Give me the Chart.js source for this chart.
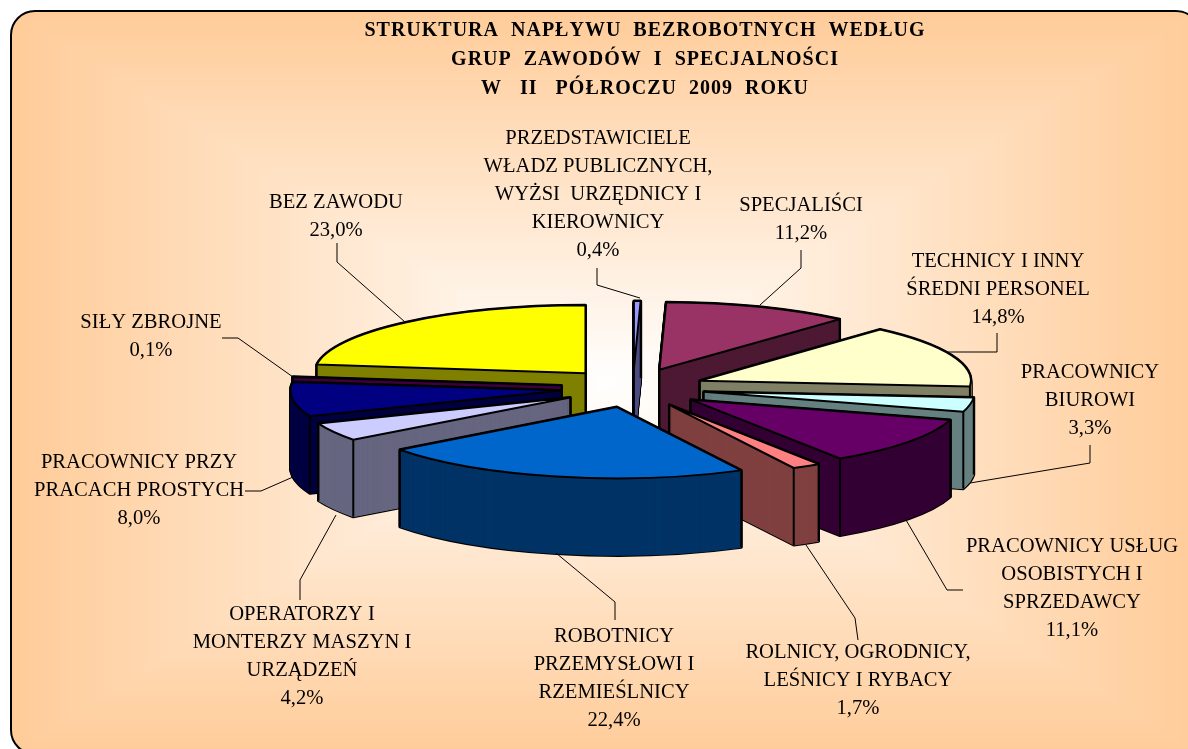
<!DOCTYPE html>
<html>
<head>
<meta charset="utf-8">
<script src="https://cdn.jsdelivr.net/npm/chart.js@4/dist/chart.umd.js"></script>
<style>
  html, body { margin: 0; padding: 0; background: #fff; overflow: hidden; }
  canvas { display: block; }
</style>
</head>
<body>
<canvas id="pieChart" width="1188" height="749"></canvas>
<script>
// clockwise from 12 o'clock
const categories = [
    ['PRZEDSTAWICIELE', 'WŁADZ PUBLICZNYCH,', 'WYŻSI  URZĘDNICY I', 'KIEROWNICY'],
    ['SPECJALIŚCI'],
    ['TECHNICY I INNY', 'ŚREDNI PERSONEL'],
    ['PRACOWNICY', 'BIUROWI'],
    ['PRACOWNICY USŁUG', 'OSOBISTYCH I', 'SPRZEDAWCY'],
    ['ROLNICY, OGRODNICY,', 'LEŚNICY I RYBACY'],
    ['ROBOTNICY', 'PRZEMYSŁOWI I', 'RZEMIEŚLNICY'],
    ['OPERATORZY I', 'MONTERZY MASZYN I', 'URZĄDZEŃ'],
    ['PRACOWNICY PRZY', 'PRACACH PROSTYCH'],
    ['SIŁY ZBROJNE'],
    ['BEZ ZAWODU']
];
const shares = [0.4, 11.2, 14.8, 3.3, 11.1, 1.7, 22.4, 4.2, 8.0, 0.1, 23.0];
const topColors = ['#9999FF', '#993366', '#FFFFCC', '#CCFFFF', '#660066', '#FF8080', '#0066CC', '#CCCCFF', '#000080', '#800080', '#FFFF00'];
const sideColors = ['#4D4D80', '#4D1933', '#808066', '#668080', '#330033', '#804040', '#003366', '#666680', '#000040', '#400040', '#808000'];
const titleLines = [
    'STRUKTURA  NAPŁYWU  BEZROBOTNYCH  WEDŁUG',
    'GRUP  ZAWODÓW  I  SPECJALNOŚCI',
    'W   II   PÓŁROCZU  2009  ROKU'
];

// label layout: centre x, y of first line
const labelAnchors = [[598, 139], [801, 206], [998, 262], [1090, 373], [1072, 547], [858, 653], [614, 637], [302, 615], [139, 463], [151, 323], [336, 203]];
const leaderLines = [
    [[597, 268], [597, 285], [640, 298]],
    [[801, 250], [801, 268], [760, 305]],
    [[997, 333], [997, 352], [946, 352]],
    [[1090, 445], [1090, 463], [970, 483]],
    [[963, 590], [947, 590], [906, 520]],
    [[858, 640], [855, 618], [806, 545]],
    [[615, 620], [615, 602], [556, 553]],
    [[300, 600], [300, 580], [336, 515]],
    [[245, 491], [261, 491], [293, 477]],
    [[222, 338], [238, 338], [293, 377]],
    [[337, 243], [337, 262], [405, 322]]
];

const pieCenter = { x: 633, y: 388 };
const tilt = 0.272;
const radius = 271;
const explode = 72;
const depth = 77;
const lineHeight = 28;
const labelFont = '20.6px "Liberation Serif"';

function pct(v) {
    return v.toFixed(1).replace('.', ',') + '%';
}

function midAngle(arc) {
    return (arc.startAngle + arc.endAngle) / 2;
}

// back slices look a little flatter than the front ones
function sliceTilt(arc) {
    return 0.256 + 0.007 * Math.sin(midAngle(arc));
}

function apex(arc) {
    const mid = midAngle(arc);
    return {
        x: pieCenter.x + Math.cos(mid) * explode,
        y: pieCenter.y + Math.sin(mid) * explode * tilt
    };
}

// top outline of a slice in screen coordinates
function slicePath(arc, drop) {
    const c = apex(arc);
    const path = new Path2D();
    path.moveTo(c.x, c.y + drop);
    path.ellipse(c.x, c.y + drop, arc.outerRadius, arc.outerRadius * sliceTilt(arc), 0, arc.startAngle, arc.endAngle);
    path.closePath();
    return path;
}

function drawArc(ctx, arc, color, drop) {
    const c = apex(arc);
    const painted = Object.create(arc);
    painted.options = Object.assign({}, arc.options, { backgroundColor: color });
    ctx.save();
    ctx.translate(c.x, c.y + drop);
    ctx.scale(1, sliceTilt(arc));
    ctx.translate(-arc.x, -arc.y);
    painted.draw(ctx);
    ctx.restore();
}

function drawSlice(ctx, arc, index) {
    const top = slicePath(arc, 0);
    const c = apex(arc);
    const ry = arc.outerRadius * sliceTilt(arc);
    ctx.lineJoin = 'round';

    // black silhouette first, dark fill over it leaves only the outline
    ctx.strokeStyle = '#000';
    ctx.lineWidth = 3;
    for (let d = depth; d >= 0; d -= 1) {
        ctx.stroke(slicePath(arc, d));
    }
    ctx.strokeStyle = sideColors[index];
    ctx.lineWidth = 1;
    for (let d = depth; d >= 1; d -= 1) {
        ctx.stroke(slicePath(arc, d));
        drawArc(ctx, arc, sideColors[index], d);
    }

    // vertical edges, only where they are not behind the top face
    ctx.strokeStyle = '#000';
    ctx.lineWidth = 2;
    const corners = [[c.x, c.y]];
    [arc.startAngle, arc.endAngle].forEach(a => {
        corners.push([c.x + Math.cos(a) * arc.outerRadius, c.y + Math.sin(a) * ry]);
    });
    corners.forEach(p => {
        if (!ctx.isPointInPath(top, p[0], p[1] + 3)) {
            ctx.beginPath();
            ctx.moveTo(p[0], p[1]);
            ctx.lineTo(p[0], p[1] + depth);
            ctx.stroke();
        }
    });

    drawArc(ctx, arc, topColors[index], 0);
    ctx.stroke(top);
}

const panelPlugin = {
    id: 'panel',
    beforeDraw(chart) {
        const ctx = chart.ctx;
        // the panel runs off the right and bottom of the picture
        const left = 11, top = 11, right = 1200, bottom = 754;
        const cx = (left + right) / 2, cy = (top + bottom) / 2;
        ctx.save();
        ctx.beginPath();
        ctx.roundRect(left, top, right - left, bottom - top, 24);
        ctx.clip();
        // rectangular "from centre" gradient, stepped like the original
        const steps = 64;
        for (let i = 0; i < steps; i += 1) {
            const t = i / steps;
            const g = Math.round(204 + (255 - 204) * t);
            const b = Math.round(153 + (255 - 153) * t);
            ctx.fillStyle = `rgb(255,${g},${b})`;
            ctx.fillRect(left + (cx - left) * t, top + (cy - top) * t,
                (right - left) * (1 - t), (bottom - top) * (1 - t));
        }
        ctx.restore();
        ctx.save();
        ctx.strokeStyle = '#000';
        ctx.lineWidth = 2;
        ctx.beginPath();
        ctx.roundRect(left, top, right - left, bottom - top, 24);
        ctx.stroke();
        ctx.restore();
        ctx.letterSpacing = '1px';
    }
};

const piePlugin = {
    id: 'pie3d',
    beforeDatasetsDraw(chart) {
        const ctx = chart.ctx;
        ctx.letterSpacing = '0px';
        const arcs = chart.getDatasetMeta(0).data;
        // far slices first so the near ones cover them
        const order = arcs.map((arc, i) => i).sort((a, b) => {
            return Math.sin(midAngle(arcs[a])) - Math.sin(midAngle(arcs[b]));
        });
        ctx.save();
        order.forEach(i => drawSlice(ctx, arcs[i], i));
        ctx.restore();

        // leader lines and labels
        ctx.save();
        ctx.strokeStyle = '#000';
        ctx.lineWidth = 1;
        leaderLines.forEach(line => {
            ctx.beginPath();
            line.forEach((p, i) => (i ? ctx.lineTo(p[0], p[1]) : ctx.moveTo(p[0], p[1])));
            ctx.stroke();
        });
        ctx.fillStyle = '#000';
        ctx.font = labelFont;
        ctx.textAlign = 'center';
        ctx.textBaseline = 'middle';
        categories.forEach((lines, i) => {
            const all = lines.concat(pct(shares[i]));
            all.forEach((text, n) => {
                ctx.fillText(text, labelAnchors[i][0], labelAnchors[i][1] + n * lineHeight);
            });
        });
        ctx.restore();
        return false;
    }
};

new Chart(document.getElementById('pieChart'), {
    type: 'pie',
    data: {
        labels: categories.map(c => c.join(' ')),
        datasets: [{
            data: shares,
            backgroundColor: topColors,
            borderWidth: 0
        }]
    },
    options: {
        responsive: false,
        animation: false,
        radius: radius,
        rotation: 0,
        layout: { padding: { left: 102, top: 16 } },
        events: [],
        plugins: {
            legend: { display: false },
            tooltip: { enabled: false },
            title: {
                display: true,
                text: titleLines,
                color: '#000',
                font: { family: '"Liberation Serif"', size: 20, weight: 'bold', lineHeight: 1.45 },
                padding: { top: 0, bottom: 0 }
            }
        }
    },
    plugins: [panelPlugin, piePlugin]
});
</script>
</body>
</html>
